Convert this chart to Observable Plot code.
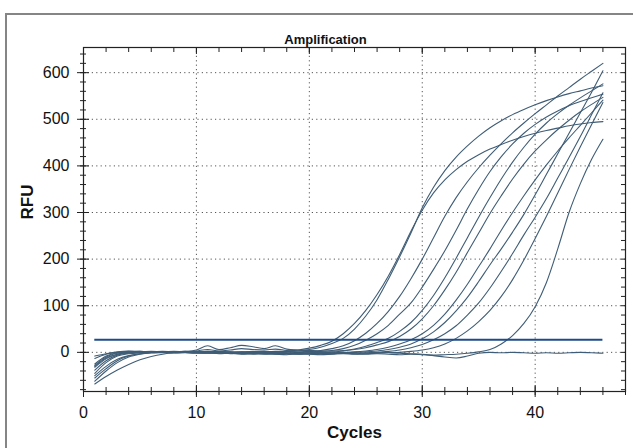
<!DOCTYPE html>
<html>
<head>
<meta charset="utf-8">
<script src="https://cdn.jsdelivr.net/npm/d3@7"></script>
<script src="https://cdn.jsdelivr.net/npm/@observablehq/plot@0.6"></script>
<style>
  html, body { margin: 0; padding: 0; background: #fff; overflow: hidden; }
  #wrap { position: relative; width: 633px; height: 448px; }
  #box { position: absolute; left: 5px; top: 13px; width: 700px; height: 500px; border: 2px solid #858585; box-sizing: border-box; pointer-events: none; }
  #chart { position: absolute; left: 0; top: 0; }
</style>
</head>
<body>
<div id="wrap"><div id="chart"></div><div id="box"></div></div>
<script>
const cycles = [1,2,3,4,5,6,7,8,9,10,11,12,13,14,15,16,17,18,19,20,21,22,23,24,25,26,27,28,29,30,31,32,33,34,35,36,37,38,39,40,41,42,43,44,45,46];

const wellB = [-30,-12,-4,-1,0,1,0,1,0,1,2,1,0,1,2,1,2,3,5,9,15,24,40,62,90,124,164,210,260,305,342,370,392,410,424,436,446,455,463,470,476,481,486,490,493,495];
const wellA = [-45,-22,-8,-3,-1,0,1,0,1,0,1,2,1,0,1,2,1,2,3,6,11,19,30,50,78,113,157,205,256,310,354,390,419,443,464,482,497,510,521,531,540,548,555,561,567,572];
const wellC = [-8,-3,0,2,1,2,1,2,1,3,6,3,5,8,6,5,7,4,3,2,4,8,14,25,41,62,88,120,158,200,246,292,332,366,396,423,448,471,492,512,531,550,568,586,603,620];
const wellD = [-28,-10,-2,1,2,1,0,1,2,1,0,1,0,-1,0,1,0,1,0,1,2,4,8,15,26,40,58,82,106,140,178,218,262,308,350,388,420,447,470,489,505,518,529,538,546,554];
const wellE = [-62,-40,-22,-10,-4,-1,0,1,0,1,2,1,0,1,0,-1,0,1,0,1,0,1,3,7,13,21,30,45,64,90,122,160,202,246,290,332,372,408,440,468,492,512,530,546,561,576];
const wellF = [-13,-4,1,3,2,1,2,1,2,5,14,6,10,15,12,8,14,7,5,4,3,3,4,6,10,16,23,34,50,72,100,134,172,214,256,298,336,372,404,432,456,478,498,516,532,547];
const wellG = [-38,-18,-6,-2,0,1,0,-1,0,-1,-2,-1,-2,-3,-2,-3,-2,-3,-2,-3,-2,-1,0,1,3,6,11,18,27,40,58,82,112,146,184,222,262,300,336,370,402,432,460,487,514,541];
const wellH = [-55,-35,-18,-8,-3,-1,0,1,0,-1,0,-2,-1,-3,-2,-4,-3,-2,-4,-3,-2,-3,-1,0,1,3,6,11,18,29,44,64,89,118,152,188,222,258,296,338,382,426,470,514,558,604];
const wellI = [-32,-14,-4,0,1,0,-1,0,-1,-2,-1,-3,-2,-4,-3,-2,-4,-3,-4,-3,-4,-3,-2,-3,-1,0,2,5,10,17,27,40,57,80,106,138,174,212,252,290,330,374,418,463,510,557];
const wellJ = [-68,-52,-38,-26,-16,-9,-4,-1,0,-1,-2,-1,-3,-2,-4,-3,-4,-5,-3,-4,-5,-4,-3,-4,-3,-2,-1,0,2,5,10,18,30,46,66,90,120,156,198,244,292,342,392,441,489,536];
const wellK = [-25,-8,-1,1,0,1,0,-1,0,1,0,-1,0,-2,-1,-2,-1,-3,-2,-1,-2,-3,-2,-3,-4,-3,-4,-5,-4,-5,-6,-5,-4,-2,1,6,18,36,62,98,150,222,300,362,414,457];
const wellNTC = [-50,-30,-15,-7,-3,-1,0,-1,0,1,0,-1,0,-1,-2,-1,0,-1,-2,-1,0,-1,-2,-1,-2,-1,0,-2,-3,-4,-7,-10,-12,-8,-2,0,-1,0,-1,-2,-1,-2,-1,0,-1,-2];

const wellNames = ["A","B","C","D","E","F","G","H","I","J","K","NTC"];
const wellValues = [wellA, wellB, wellC, wellD, wellE, wellF, wellG, wellH, wellI, wellJ, wellK, wellNTC];

const threshold = 27;
const thresholdFrom = 1;
const thresholdTo = 46;

const xMajor = [0, 10, 20, 30, 40];
const xMinor = d3.range(0, 49, 2);
const xGrid = [10, 20, 30, 40];
const yMajor = [0, 100, 200, 300, 400, 500, 600];
const yMinor = d3.range(-80, 641, 20);

const table = wellNames.flatMap((w, i) => cycles.map((c, j) => ({well: w, cycle: c, rfu: wellValues[i][j]})));

const gridStyle = {stroke: "#444", strokeOpacity: 0.9, strokeDasharray: "1.2,3.2", strokeWidth: 1};
const noText = () => "";

const chart = Plot.plot({
  width: 633,
  height: 448,
  marginLeft: 83,
  marginRight: 8,
  marginTop: 47,
  marginBottom: 57,
  style: {fontFamily: "'Liberation Sans', Arial, sans-serif", fontSize: "16px", background: "white", color: "#111", overflow: "visible"},
  x: {domain: [0, 48]},
  y: {domain: [-84, 654]},
  marks: [
    Plot.gridX(xGrid, gridStyle),
    Plot.gridY(yMajor, gridStyle),
    Plot.line(table, {x: "cycle", y: "rfu", z: "well", stroke: "#3f5d76", strokeWidth: 1.1, curve: "monotone-x"}),
    Plot.ruleY([threshold], {x1: thresholdFrom, x2: thresholdTo, stroke: "#1d4b86", strokeWidth: 2}),
    Plot.frame({stroke: "#222", strokeWidth: 1.2}),
    // left axis
    Plot.axisY({ticks: yMinor, tickSize: 6, dx: 3, tickFormat: noText, label: null, stroke: "#222"}),
    Plot.axisY({ticks: yMajor, tickSize: 12, dx: 6, tickFormat: noText, label: null, stroke: "#222"}),
    Plot.axisY({ticks: yMajor, tickSize: 0, tickPadding: 14, label: null, fontSize: 16}),
    // right axis ticks inward
    Plot.axisY({anchor: "right", ticks: yMinor, tickSize: 5, dx: -5, tickFormat: noText, label: null, stroke: "#222"}),
    // bottom axis
    Plot.axisX({ticks: xMinor, tickSize: 8, dy: -4, tickFormat: noText, label: null, stroke: "#222"}),
    Plot.axisX({ticks: xMajor, tickSize: 12, dy: -6, tickFormat: noText, label: null, stroke: "#222"}),
    Plot.axisX({ticks: xMajor, tickSize: 0, tickPadding: 15, label: null, fontSize: 16}),
    // top axis ticks inward
    Plot.axisX({anchor: "top", ticks: xMinor, tickSize: 4, dy: 4, tickFormat: noText, label: null, stroke: "#222"}),
    Plot.axisX({anchor: "top", ticks: xMajor, tickSize: 6, dy: 6, tickFormat: noText, label: null, stroke: "#222"}),
    // titles
    Plot.text(["Amplification"], {frameAnchor: "top", dy: -13, dx: -29, fontWeight: "bold", fontSize: 13, fill: "#111"}),
    Plot.text(["Cycles"], {frameAnchor: "bottom", dy: 46, fontWeight: "bold", fontSize: 17, fill: "#111"}),
    Plot.text(["RFU"], {frameAnchor: "left", dx: -56, rotate: -90, fontWeight: "bold", fontSize: 17, fill: "#111"})
  ]
});
document.getElementById("chart").appendChild(chart);
</script>
</body>
</html>
